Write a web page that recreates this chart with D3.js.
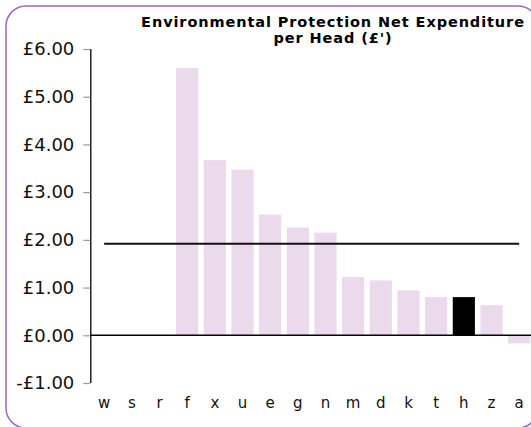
<!DOCTYPE html>
<html>
<head>
<meta charset="utf-8">
<script src="https://cdn.jsdelivr.net/npm/d3@7"></script>
<style>
html,body{margin:0;padding:0;background:#fff;overflow:hidden;}
svg{display:block;}
</style>
</head>
<body>
<script>
const categories = ["w","s","r","f","x","u","e","g","n","m","d","k","t","h","z","a"];
const values = [null,null,null,5.60,3.67,3.47,2.53,2.26,2.15,1.22,1.15,0.94,0.80,0.80,0.63,-0.17];
const highlighted = ["h"];
const averageValue = 1.92;
const yTicks = [-1,0,1,2,3,4,5,6];
const titleLines = ["Environmental Protection Net Expenditure","per Head (£')"];

const W = 531, H = 427;
const svg = d3.select("body").append("svg").attr("width", W).attr("height", H);

// frame
svg.append("rect").attr("x",6).attr("y",6).attr("width",532).attr("height",422)
  .attr("rx",20).attr("ry",20).attr("fill","#fff").attr("stroke","#9966CC").attr("stroke-width",1.5);

const x0 = 90.3;
const x = d3.scaleBand().domain(categories).range([x0, x0 + 16*27.67]).paddingInner(0.2).paddingOuter(0.1);
const y = d3.scaleLinear().domain([-1,6]).range([383,49]);

// bars
const data = categories.map((c,i)=>({c, v: values[i]})).filter(d=>d.v!==null);
svg.append("g").selectAll("rect").data(data).join("rect")
  .attr("x", d=>x(d.c))
  .attr("width", x.bandwidth())
  .attr("y", d=>y(Math.max(0,d.v)))
  .attr("height", d=>Math.abs(y(d.v)-y(0)))
  .attr("fill", d=>highlighted.includes(d.c) ? "#000" : "#EBD9EC");

// y axis
const yAxis = d3.axisLeft(y).tickValues(yTicks).tickSize(7).tickPadding(9)
  .tickFormat(d => (d<0?"-":"") + "£" + Math.abs(d).toFixed(2));
const gy = svg.append("g").attr("transform",`translate(${x0},0)`).call(yAxis);
gy.select(".domain").attr("stroke","#000").attr("stroke-width",1.3).attr("d",`M0.5,${y(6)}V${y(-1)}`);
gy.selectAll(".tick line").attr("stroke","#999").attr("stroke-width",1.2);
gy.selectAll(".tick text").attr("font-family","'DejaVu Sans', Verdana, sans-serif").attr("font-size",18).attr("fill","#111");

// zero line
svg.append("line").attr("x1",x0).attr("x2",W).attr("y1",y(0)).attr("y2",y(0))
  .attr("stroke","#000").attr("stroke-width",1.5);

// average line
svg.append("line")
  .attr("x1", x(categories[0]) + x.bandwidth()/2)
  .attr("x2", x(categories[categories.length-1]) + x.bandwidth()/2)
  .attr("y1", y(averageValue)).attr("y2", y(averageValue))
  .attr("stroke","#111").attr("stroke-width",2);

// x axis labels
const xAxis = d3.axisBottom(x).tickSize(0).tickPadding(0);
const gx = svg.append("g").attr("transform",`translate(0,397)`).call(xAxis);
gx.select(".domain").remove();
gx.selectAll(".tick text").attr("font-family","'DejaVu Sans', Verdana, sans-serif").attr("font-size",15).attr("fill","#111").attr("dy","0.71em");

// title
const t = svg.append("text").attr("text-anchor","middle")
  .attr("font-family","'DejaVu Sans', Verdana, sans-serif").attr("font-weight","bold")
  .attr("font-size",14.5).attr("letter-spacing","0.9px").attr("fill","#000");
titleLines.forEach((l,i)=>t.append("tspan").attr("x",333).attr("y",27+i*16).text(l));
</script>
</body>
</html>
